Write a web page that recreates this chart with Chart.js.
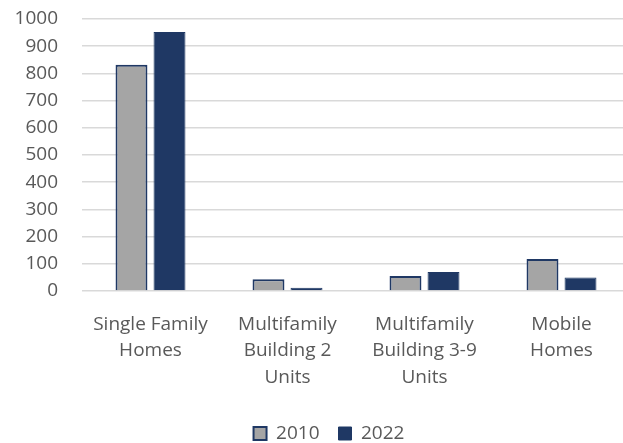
<!DOCTYPE html>
<html>
<head>
<meta charset="utf-8">
<script src="https://cdn.jsdelivr.net/npm/chart.js@4"></script>
<style>
  html, body { margin: 0; padding: 0; background: #fff; overflow: hidden; }
  body { width: 623px; height: 443px; }
</style>
</head>
<body>
<canvas id="chart" width="630" height="443"></canvas>
<script>
// data
const categories = [
    ['Single Family', 'Homes'],
    ['Multifamily', 'Building 2', 'Units'],
    ['Multifamily', 'Building 3-9', 'Units'],
    ['Mobile', 'Homes']
];
const values2010 = [832, 43, 55, 118];
const values2022 = [952, 12, 70, 50];
const seriesNames = ['2010', '2022'];
const yTicks = { min: 0, max: 1000, step: 100 };

const textColor = '#595959';
const font = { family: 'Open Sans', size: 19 };

// nudge the legend to where the original sits (a bit right of centre, near the bottom)
const legendNudge = {
    id: 'legendNudge',
    afterLayout(chart) {
        const lg = chart.legend;
        const dx = 14;
        const dy = 435 - (lg.top + lg.options.labels.padding + 11);
        lg.left += dx; lg.right += dx;
        lg.top += dy; lg.bottom += dy;
    }
};

const ctx = document.getElementById('chart').getContext('2d');
new Chart(ctx, {
    type: 'bar',
    data: {
        labels: categories,
        datasets: [{
            label: seriesNames[0],
            data: values2010,
            backgroundColor: '#a5a5a5',
            borderColor: '#1f3864',
            borderWidth: 2
        }, {
            label: seriesNames[1],
            data: values2022,
            backgroundColor: '#1f3864',
            borderColor: '#1f3864',
            borderWidth: 1
        }]
    },
    plugins: [legendNudge],
    options: {
        responsive: false,
        animation: false,
        categoryPercentage: 0.555,
        barPercentage: 0.84,
        layout: { padding: { left: 0, right: 0, top: 19, bottom: 0 } },
        plugins: {
            tooltip: { enabled: false },
            legend: {
                position: 'bottom',
                labels: {
                    color: textColor,
                    font: font,
                    boxWidth: 13,
                    boxHeight: 13,
                    padding: 19
                }
            }
        },
        scales: {
            x: {
                grid: { display: false },
                border: { display: false },
                ticks: {
                    color: textColor,
                    font: { family: font.family, size: font.size, lineHeight: 1.4 },
                    maxRotation: 0,
                    autoSkip: false,
                    padding: 12
                },
                afterFit: (scale) => { scale.height = 104; }
            },
            y: {
                min: yTicks.min,
                max: yTicks.max,
                ticks: {
                    stepSize: yTicks.step,
                    color: textColor,
                    font: font,
                    padding: 0,
                    autoSkip: false,
                    callback: (v) => String(v)
                },
                grid: {
                    color: '#d9d9d9',
                    lineWidth: 1.5,
                    drawTicks: true,
                    tickLength: 24,
                    tickColor: 'rgba(0,0,0,0)'
                },
                border: { display: false },
                afterFit: (scale) => { scale.width = 82; }
            }
        }
    }
});
</script>
</body>
</html>
